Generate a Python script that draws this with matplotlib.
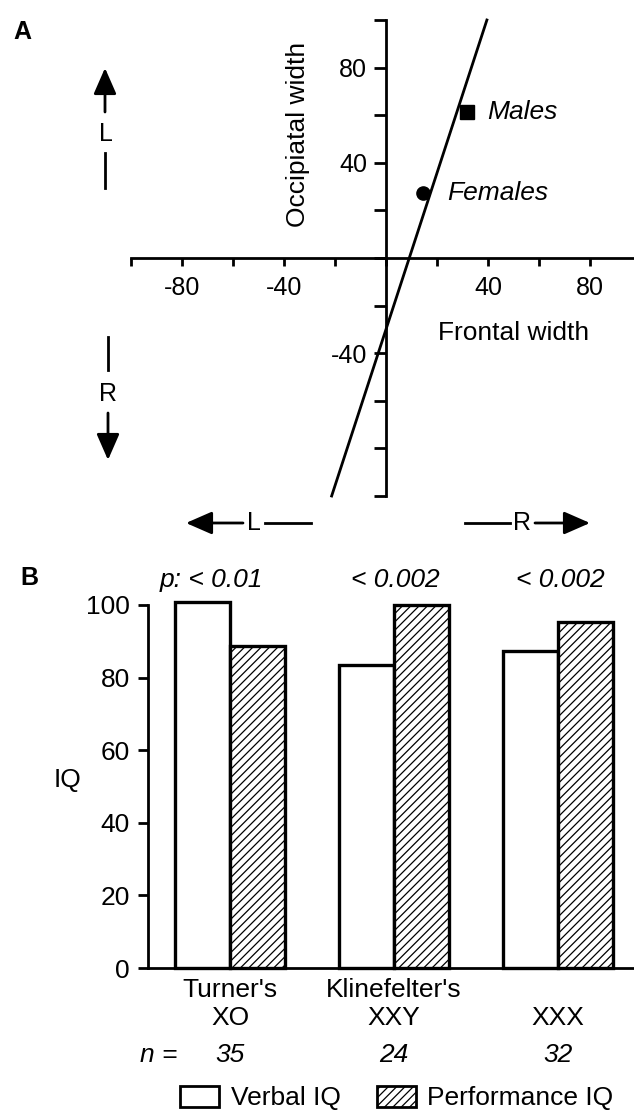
import matplotlib
matplotlib.use("Agg")
import matplotlib.pyplot as plt
from matplotlib.patches import Patch

plt.rcParams['font.family'] = ['Liberation Sans', 'DejaVu Sans']
plt.rcParams['axes.unicode_minus'] = False
plt.rcParams['hatch.linewidth'] = 0.9

# ---------------- data ----------------
# Panel A: asymmetry (R-L) of frontal vs occipital width
sex_groups = ["Males", "Females"]
frontal_width = [31.8, 14.4]
occipital_width = [61.4, 27.5]
sex_markers = ["s", "o"]
fit_x = [-21.3, 39.6]
fit_y = [-100.0, 100.0]
a_xticks = [-100, -80, -60, -40, -20, 0, 20, 40, 60, 80]
a_xticklabels = ["", "-80", "", "-40", "", "", "", "40", "", "80"]
a_yticks = [-100, -80, -60, -40, -20, 0, 20, 40, 60, 80, 100]
a_yticklabels = ["", "", "", "-40", "", "", "", "40", "", "80", ""]

# Panel B: IQ by sex-chromosome aneuploidy
categories = ["Turner's\nXO", "Klinefelter's\nXXY", "\nXXX"]
verbal_iq = [100.8, 83.6, 87.3]
performance_iq = [88.6, 100.0, 95.3]
n_values = ["35", "24", "32"]
p_values = ["p: < 0.01", "< 0.002", "< 0.002"]
b_yticks = [0, 20, 40, 60, 80, 100]

W, H = 634, 1112
fig = plt.figure(figsize=(W / 100, H / 100), dpi=100)


def fx(px):
    return px / W


def fy(py):
    return 1 - py / H


FS = 19
LW = 2.0

# ---------------- panel A ----------------
axA = fig.add_axes([fx(131), fy(496), fx(634 - 131), (496 - 20) / H])
axA.set_xlim(-100, 97.3)
axA.set_ylim(-100, 100)
for s in ["top", "right"]:
    axA.spines[s].set_visible(False)
axA.spines["left"].set_position(("data", 0))
axA.spines["bottom"].set_position(("data", 0))
axA.spines["left"].set_linewidth(LW)
axA.spines["bottom"].set_linewidth(LW)
axA.set_xticks(a_xticks)
axA.set_xticklabels(a_xticklabels)
axA.set_yticks(a_yticks)
axA.set_yticklabels(a_yticklabels)
axA.tick_params(axis="x", direction="out", length=6, width=LW, pad=7, labelsize=18)
axA.tick_params(axis="y", direction="out", length=8.5, width=LW, pad=5, labelsize=18)
axA.patch.set_alpha(0)

axA.plot(fit_x, fit_y, color="black", lw=2.0, clip_on=False)
for xv, yv, m in zip(frontal_width, occipital_width, sex_markers):
    axA.plot([xv], [yv], marker=m, color="black", markersize=9.5, linestyle="none")
label_dx = [7.8, 9.5]
for xv, yv, g, d in zip(frontal_width, occipital_width, sex_groups, label_dx):
    axA.text(xv + d, yv, g, fontsize=FS, style="italic", ha="left", va="center")

axA.text(-34.5, 52, "Occipiatal width", rotation=90, fontsize=FS, ha="center", va="center")
axA.text(50.2, -31.4, "Frontal width", fontsize=FS, ha="center", va="center")

# ---------------- panel B ----------------
axB = fig.add_axes([fx(148), fy(968), fx(634 - 148), (968 - 605) / H])
pos = list(range(len(categories)))
bw = 0.337
axB.bar([p - bw / 2 for p in pos], verbal_iq, width=bw, facecolor="white",
        edgecolor="black", linewidth=2.4, clip_on=False, label="Verbal IQ")
axB.bar([p + bw / 2 for p in pos], performance_iq, width=bw, facecolor="white",
        edgecolor="black", linewidth=2.4, hatch="////", clip_on=False, label="Performance IQ")
axB.set_xlim(-0.5, 2.463)
axB.set_ylim(0, 100)
for s in ["top", "right"]:
    axB.spines[s].set_visible(False)
axB.spines["left"].set_linewidth(LW)
axB.spines["bottom"].set_linewidth(LW)
axB.set_yticks(b_yticks)
axB.tick_params(axis="y", direction="out", length=7, width=LW, pad=6, labelsize=FS)
axB.set_xticks(pos)
axB.set_xticklabels(categories, linespacing=1.2)
axB.tick_params(axis="x", length=0, pad=7, labelsize=FS)
axB.set_ylabel("IQ", fontsize=FS, rotation=0, labelpad=0)
axB.yaxis.set_label_coords(fx(68 - 148) / fx(634 - 148), (968 - 792) / (968 - 605))
axB.patch.set_alpha(0)

# ---------------- overlay (labels & direction arrows) ----------------
ov = fig.add_axes([0, 0, 1, 1])
ov.set_xlim(0, W)
ov.set_ylim(H, 0)
ov.axis("off")
ov.patch.set_alpha(0)

n_px = [230, 394, 558]
for xp, n in zip(n_px, n_values):
    ov.text(xp, 1055, n, fontsize=FS, style="italic", ha="center", va="center")
ov.text(159, 1055, "n =", fontsize=FS, style="italic", ha="center", va="center")

ov.text(22, 32, "A", fontsize=18, fontweight="bold", ha="center", va="center")
ov.text(29, 578, "B", fontsize=18, fontweight="bold", ha="center", va="center")

p_px = [211, 395, 560]
for xp, pv in zip(p_px, p_values):
    ov.text(xp, 580, pv, fontsize=FS, style="italic", ha="center", va="center")

arrow_kw = dict(arrowstyle="-|>,head_length=0.8,head_width=0.35", mutation_scale=20,
                lw=2, color="black", shrinkA=0, shrinkB=0)
# left vertical: up L
ov.annotate("", xy=(105, 68), xytext=(105, 112), arrowprops=arrow_kw)
ov.text(106, 134, "L", fontsize=18, ha="center", va="center")
ov.plot([105, 105], [153, 188], color="black", lw=2)
# left vertical: down R
ov.plot([108, 108], [337, 370], color="black", lw=2)
ov.text(108, 394, "R", fontsize=18, ha="center", va="center")
ov.annotate("", xy=(108, 460), xytext=(108, 413), arrowprops=arrow_kw)
# bottom horizontal
ov.annotate("", xy=(186, 523), xytext=(243, 523), arrowprops=arrow_kw)
ov.text(254, 523, "L", fontsize=18, ha="center", va="center")
ov.plot([265, 311], [523, 523], color="black", lw=2)
ov.plot([465, 510], [523, 523], color="black", lw=2)
ov.text(522, 523, "R", fontsize=18, ha="center", va="center")
ov.annotate("", xy=(590, 523), xytext=(535, 523), arrowprops=arrow_kw)

# legend
handles = [Patch(facecolor="white", edgecolor="black", linewidth=2.0, label="Verbal IQ"),
           Patch(facecolor="white", edgecolor="black", linewidth=2.0, hatch="////", label="Performance IQ")]
fig.legend(handles=handles, loc="center", bbox_to_anchor=(fx(397), fy(1098)), ncol=2,
           frameon=False, fontsize=FS, handlelength=1.45, handleheight=0.85,
           handletextpad=0.45, columnspacing=1.4, borderpad=0, borderaxespad=0)

fig.savefig("out.png", dpi=100)
